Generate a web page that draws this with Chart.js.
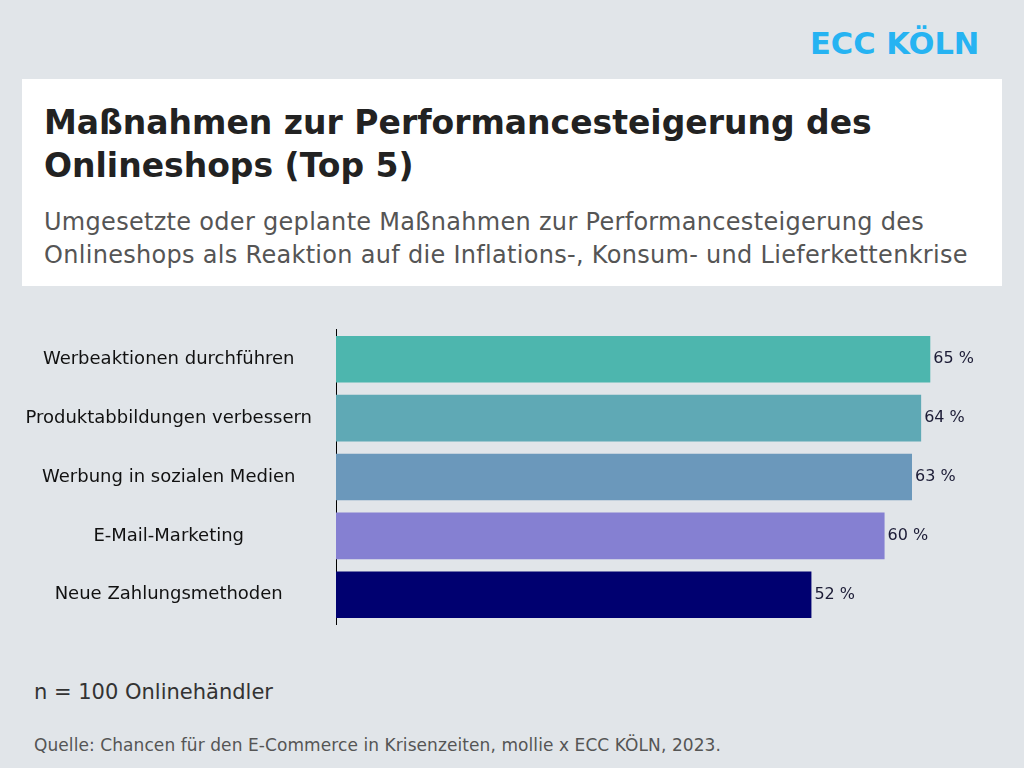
<!DOCTYPE html>
<html>
<head>
<meta charset="utf-8">
<script src="https://cdn.jsdelivr.net/npm/chart.js@4.4.1/dist/chart.umd.min.js"></script>
<style>
  html, body { margin: 0; padding: 0; }
  body { width: 1024px; height: 768px; background: #e1e5e9; position: relative; overflow: hidden; font-family: "DejaVu Sans", sans-serif; }
  .logo { position: absolute; left: 810px; top: 26px; font-size: 30.5px; font-weight: 700; color: #26b3f2; }
  .box { position: absolute; left: 22px; top: 79px; width: 980px; height: 207px; background: #ffffff; }
  .title { position: absolute; left: 22px; top: 22px; font-size: 33px; font-weight: 700; color: #222; line-height: 43px; }
  .sub { position: absolute; left: 22px; top: 127px; font-size: 24px; letter-spacing: 0.3px; color: #555; line-height: 33px; }
  .n { position: absolute; left: 34px; top: 680px; font-size: 21px; color: #333; }
  .src { position: absolute; left: 34px; top: 735px; font-size: 17px; letter-spacing: 0.08px; color: #555; }
  #wrap { position: absolute; left: 0; top: 303px; width: 1024px; height: 348px; }
</style>
</head>
<body>
<div class="logo">ECC KÖLN</div>
<div class="box">
  <div class="title">Maßnahmen zur Performancesteigerung des<br>Onlineshops (Top 5)</div>
  <div class="sub">Umgesetzte oder geplante Maßnahmen zur Performancesteigerung des<br>Onlineshops als Reaktion auf die Inflations-, Konsum- und Lieferkettenkrise</div>
</div>
<div id="wrap"><canvas id="chart"></canvas></div>
<div class="n">n = 100 Onlinehändler</div>
<div class="src">Quelle: Chancen für den E-Commerce in Krisenzeiten, mollie x ECC KÖLN, 2023.</div>
<script>
const categories = [
  "Werbeaktionen durchführen",
  "Produktabbildungen verbessern",
  "Werbung in sozialen Medien",
  "E-Mail-Marketing",
  "Neue Zahlungsmethoden"
];
const values = [65, 64, 63, 60, 52];
const barColors = ["#4db6ae", "#5fa9b5", "#6b98bb", "#8580d2", "#000070"];

// value labels at the end of each bar
const valueLabels = {
  id: "valueLabels",
  afterDatasetsDraw(chart) {
    const ctx = chart.ctx;
    const meta = chart.getDatasetMeta(0);
    ctx.save();
    ctx.font = "16px 'DejaVu Sans'";
    ctx.fillStyle = "#1c1c36";
    ctx.textAlign = "left";
    ctx.textBaseline = "middle";
    meta.data.forEach((bar, i) => {
      ctx.fillText(values[i] + " %", bar.x + 3, bar.y);
    });
    ctx.restore();
  }
};

new Chart(document.getElementById("chart").getContext("2d"), {
  type: "bar",
  data: {
    labels: categories,
    datasets: [{
      data: values,
      backgroundColor: barColors,
      borderWidth: 0,
      categoryPercentage: 0.79,
      barPercentage: 1
    }]
  },
  options: {
    indexAxis: "y",
    responsive: true,
    maintainAspectRatio: false,
    animation: false,
    layout: { padding: { top: 9, bottom: 6, left: 0, right: 48 } },
    plugins: { legend: { display: false }, tooltip: { enabled: false } },
    scales: {
      x: { display: false, min: 0, max: 70 },
      y: {
        afterFit(scale) { scale.width = 336; },
        grid: { display: false },
        border: { display: true, color: "#000", width: 1 },
        ticks: {
          crossAlign: "center",
          padding: 16,
          color: "#111",
          font: { family: "'DejaVu Sans'", size: 18 }
        }
      }
    }
  },
  plugins: [valueLabels]
});
</script>
</body>
</html>
